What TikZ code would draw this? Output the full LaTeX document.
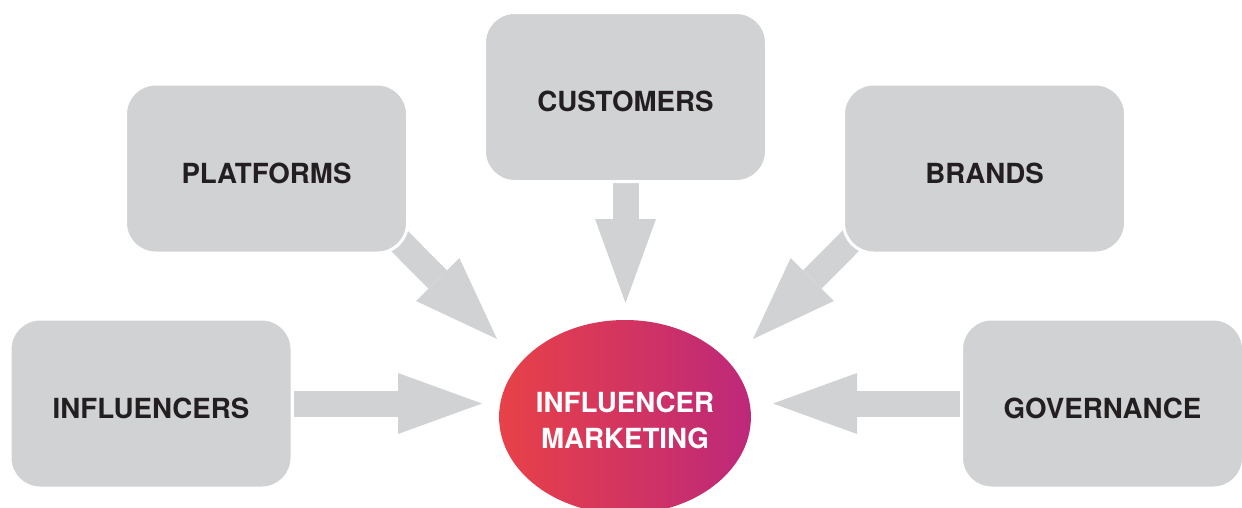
\documentclass[tikz,border=0pt]{standalone}
\usepackage{fontspec}
\setmainfont{TeX Gyre Heros}
\usetikzlibrary{shapes.geometric,arrows.meta,backgrounds}
\definecolor{boxgray}{RGB}{209,210,212}
\definecolor{ink}{RGB}{35,31,32}
\definecolor{hubred}{RGB}{232,65,72}
\definecolor{hubmagenta}{RGB}{189,40,122}
\tikzset{
	topic/.style={draw=white,line width=3pt,fill=boxgray,rounded corners=30pt,
		minimum width=282pt,minimum height=169pt,text=ink,text height=29.5pt,text depth=0pt,
		font=\fontsize{27.7}{36}\selectfont\bfseries},
	hub/.style={ellipse,inner sep=0pt,minimum width=242pt,minimum height=194pt,
		left color=hubred,right color=hubmagenta,text=white,align=center,
		text height=62pt,text depth=0pt,
		font=\fontsize{27.7}{36}\selectfont\bfseries},
	feed/.style={draw=boxgray,line width=26pt,
		-{Triangle[width=61pt,length=84pt,line width=0pt 0 0]}}
}
\begin{document}
\begin{tikzpicture}[x=1pt,y=-1pt]
		\useasboundingbox (0,0) rectangle (1242,507);
		% five topics round the hub
		\node [topic] (infl) at (151,403.5) {INFLUENCERS};
		\node [topic] (plat) at (266.5,168.5) {PLATFORMS};
		\node [topic] (cust) at (625.5,97) {CUSTOMERS};
		\node [topic] (brand) at (984.5,168.5) {BRANDS};
		\node [topic] (gov) at (1102.5,403.5) {GOVERNANCE};
		\node [hub] (mkt) at (625,417) {INFLUENCER\\MARKETING};
		% tips stop short of the hub
		\coordinate (tipW) at ([shift={(-143,-14)}]mkt.center);
		\coordinate (tipE) at ([shift={(148,-14)}]mkt.center);
		\coordinate (tipN) at ([shift={(0.5,-114)}]mkt.center);
		\coordinate (tipNW) at ([shift={(-128,-78)}]mkt.center);
		\coordinate (tipNE) at ([shift={(128,-78)}]mkt.center);
		\begin{scope}[on background layer]
			\draw [feed] (infl.east) -- (infl.east -| tipW);
			\draw [feed] (gov.west) -- (gov.west -| tipE);
			\draw [feed] (cust.south) -- (tipN);
			\draw [feed] ([shift={(-27,-31)}]plat.south east) -- (tipNW);
			\draw [feed] ([shift={(26,-31)}]brand.south west) -- (tipNE);
		\end{scope}
\end{tikzpicture}
\end{document}
